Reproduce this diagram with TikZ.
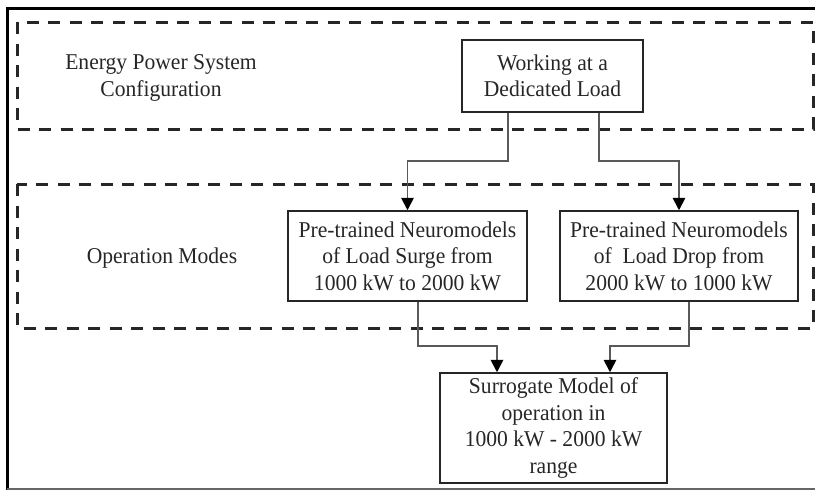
\documentclass[tikz,border=0pt]{standalone}
\usepackage{fontspec}
\setmainfont{Liberation Serif}[FakeStretch=0.955]
\usetikzlibrary{arrows.meta}
\begin{document}
\begin{tikzpicture}[x=1pt,y=-1pt,
  txt/.style={font=\fontsize{22.6}{26.5}\selectfont, align=center, text=black!85, inner sep=0pt},
  blk/.style={txt, draw=black!85, line width=1.5pt},
  grp/.style={draw=black!85, line width=3pt, dash pattern=on 12pt off 9.5pt},
  link/.style={draw=black!65, line width=1.8pt, -{Triangle[length=12.5pt,width=12.5pt,black]}},
]
\useasboundingbox (0,0) rectangle (815,490);

% page frame
\draw[line width=3pt, black] (7,490) -- (7,8.5) -- (815,8.5);
\draw[line width=1.5pt, black!60] (7,489) -- (815,489);

% group frames
\draw[grp] (17,22) rectangle (813,129);
\draw[grp] (17,184) rectangle (813,328);

% group labels
\node[txt] (cfglabel) at (161,78) {Energy Power System\\Configuration};
\node[txt] (modes) at (162,258) {Operation Modes};

% blocks
\node[blk, minimum width=181pt, minimum height=72pt] (work) at (552.5,76) {Working at a\\Dedicated Load};
\node[blk, minimum width=239pt, minimum height=90pt] (surge) at (407.5,256) {Pre-trained Neuromodels\\of Load Surge from\\1000 kW to 2000 kW};
\node[blk, minimum width=238pt, minimum height=90pt] (drop) at (679,256) {Pre-trained Neuromodels\\of~ Load Drop from\\2000 kW to 1000 kW};
\node[blk, minimum width=227pt, minimum height=110pt] (surr) at (553.5,428) {Surrogate Model of\\operation in\\1000 kW - 2000 kW\\range};

% bend levels of the connectors
\coordinate (j1) at (0,161);
\coordinate (j2) at (0,346);

% connectors
\draw[link] ([xshift=-44.5pt]work.south) -- ([xshift=-44.5pt]work.south |- j1) -| (surge.north);
\draw[link] ([xshift=46.5pt]work.south) -- ([xshift=46.5pt]work.south |- j1) -| (drop.north);
\draw[link] ([xshift=10.5pt]surge.south) -- ([xshift=10.5pt]surge.south |- j2) -| ([xshift=-56.5pt]surr.north);
\draw[link] ([xshift=10pt]drop.south) -- ([xshift=10pt]drop.south |- j2) -| ([xshift=56.5pt]surr.north);
\end{tikzpicture}
\end{document}
